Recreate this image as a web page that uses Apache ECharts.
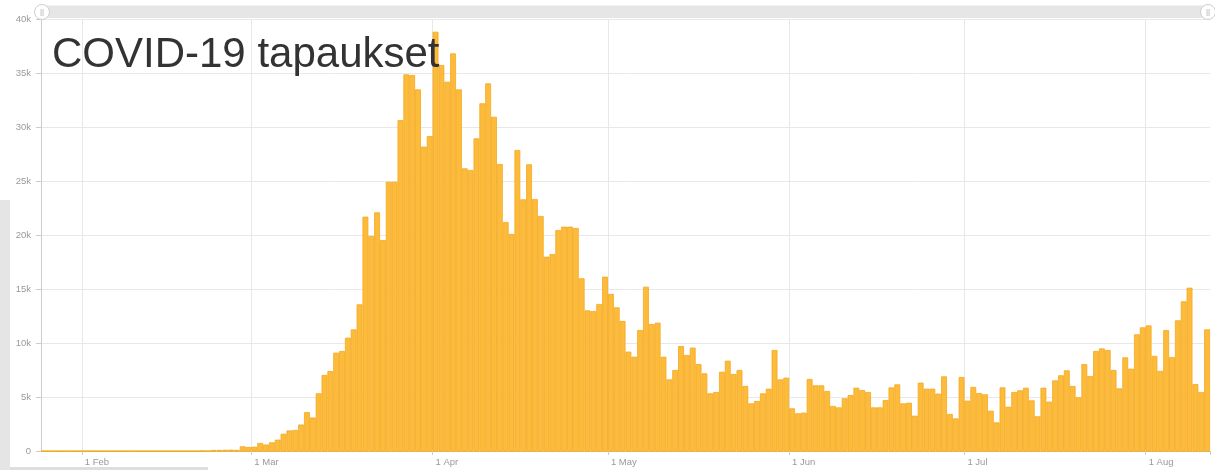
<!DOCTYPE html>
<html>
<head>
<meta charset="utf-8">
<script src="https://cdn.jsdelivr.net/npm/echarts@6/dist/echarts.min.js"></script>
<style>
html,body{margin:0;padding:0;background:#fff;}
#chart{width:1215px;height:470px;}
</style>
</head>
<body>
<div id="chart"></div>
<script>
// ---- DATA ----
const titleText = 'COVID-19 tapaukset';
const startDate = '2020-01-25';
const dayCount = 200;
const monthNames = ['Jan','Feb','Mar','Apr','May','Jun','Jul','Aug','Sep','Oct','Nov','Dec'];
const yTicks = [0, 5000, 10000, 15000, 20000, 25000, 30000, 35000, 40000];
// daily new cases, Jan 25 ... Aug 11
const casesJanFeb = [2,3,1,1,5,1,1,1,8,1,2,1,1,1,1,3,1,1,1,1,1,2,1,1,1,1,1,20,1,
  90,100,110,120,100,430,370];
const casesMar = [400,740,600,800,1050,1600,1900,1950,2450,3600,3100,5340,7040,7400,9100,9260,
  10490,11260,13580,21700,19900,22100,19530,24930,24930,30640,34870,34810,33480,28180,29160];
const casesApr = [38820,35740,34190,36810,33480,26170,26020,28950,32190,34040,30950,26570,21200,20100,
  27870,23300,26550,23330,21760,17990,18240,20460,20770,20770,20650,15990,13020,12960,13610,16140];
const casesMay = [14540,13300,12040,9200,8730,11200,15210,11760,11880,8730,6630,7500,9720,8890,9570,
  8050,7190,5340,5460,7340,8360,7130,7500,6020,4410,4630,5340,5770,9350,6630,6790];
const casesJun = [3950,3490,3550,6670,6080,6080,5550,4170,4040,4880,5180,5860,5650,5460,4040,4040,
  4720,5890,6170,4410,4470,3270,6330,5770,5770,5310,6910,3430,3020,6850];
const casesJul = [4660,5930,5370,5250,3730,2650,5890,4100,5460,5620,5860,4690,3210,5860,4570,6540,
  7010,7470,6020,4970,8050,6940,9260,9500,9350,7500,5800,8670,7620,10800,11450];
const casesAug = [11630,8800,7410,11200,8700,12100,13860,15120,6200,5460,11260];

const cases = [].concat(casesJanFeb, casesMar, casesApr, casesMay, casesJun, casesJul, casesAug);

// category dates
const dates = [];
(function(){
  const d0 = new Date(startDate + 'T00:00:00Z');
  for (let i = 0; i < dayCount; i++) {
    const d = new Date(d0.getTime() + i * 86400000);
    dates.push(d.getUTCDate() + ' ' + monthNames[d.getUTCMonth()]);
  }
})();
const isMonthStart = (idx, val) => /^1 /.test(val);

const chart = echarts.init(document.getElementById('chart'), null, {renderer: 'canvas'});
const FONT = 'Liberation Sans, Arial, sans-serif';

chart.setOption({
  animation: false,
  backgroundColor: '#ffffff',
  textStyle: {fontFamily: FONT},
  title: {
    text: titleText,
    left: 47,
    top: 29,
    textStyle: {fontSize: 42, fontWeight: 'normal', color: '#333333', fontFamily: FONT}
  },
  grid: {left: 41, right: 5, top: 19, bottom: 19, containLabel: false},
  xAxis: {
    type: 'category',
    data: dates,
    boundaryGap: true,
    axisLine: {show: true, lineStyle: {color: '#e9b54a', width: 1}},
    axisTick: {show: true, interval: isMonthStart, length: 4, lineStyle: {color: '#cccccc'}},
    axisLabel: {
      interval: isMonthStart,
      align: 'left',
      margin: 6,
      fontSize: 9.5,
      color: '#999999',
      fontFamily: FONT
    },
    splitLine: {show: true, interval: isMonthStart, showMaxLine: false, lineStyle: {color: '#e8e8e8', width: 1}}
  },
  yAxis: {
    type: 'value',
    min: yTicks[0],
    max: yTicks[yTicks.length - 1],
    interval: yTicks[1] - yTicks[0],
    axisLine: {show: true, lineStyle: {color: '#cccccc'}},
    axisTick: {show: true, length: 5, lineStyle: {color: '#cccccc'}},
    axisLabel: {
      margin: 10,
      fontSize: 9.5,
      color: '#999999',
      fontFamily: FONT,
      formatter: v => v === 0 ? '0' : (v / 1000) + 'k'
    },
    splitLine: {show: true, lineStyle: {color: '#e8e8e8', width: 1}}
  },
  series: [{
    type: 'bar',
    data: cases,
    barCategoryGap: '0%',
    itemStyle: {color: '#fdbb3b', borderColor: '#f4a81f', borderWidth: 0.8}
  }],
  graphic: [
    {type: 'rect', shape: {x: 41, y: 5.5, width: 1169, height: 12.5}, style: {fill: '#e6e6e6'}, z: 100},
    {type: 'circle', shape: {cx: 42, cy: 12, r: 7.5}, style: {fill: '#ffffff', stroke: '#cfcfcf', lineWidth: 1}, z: 101},
    {type: 'text', x: 42, y: 12, style: {text: '||', fontSize: 8, fill: '#aaaaaa', align: 'center', verticalAlign: 'middle', font: '8px Liberation Sans'}, z: 102},
    {type: 'circle', shape: {cx: 1208, cy: 12, r: 7.5}, style: {fill: '#ffffff', stroke: '#cfcfcf', lineWidth: 1}, z: 101},
    {type: 'text', x: 1208, y: 12, style: {text: '||', fontSize: 8, fill: '#aaaaaa', align: 'center', verticalAlign: 'middle', font: '8px Liberation Sans'}, z: 102},
    {type: 'rect', shape: {x: 0, y: 200, width: 10, height: 270}, style: {fill: '#e5e5e5'}, z: 100},
    {type: 'rect', shape: {x: 10, y: 467, width: 198, height: 3}, style: {fill: '#dedede'}, z: 100}
  ]
});
</script>
</body>
</html>
